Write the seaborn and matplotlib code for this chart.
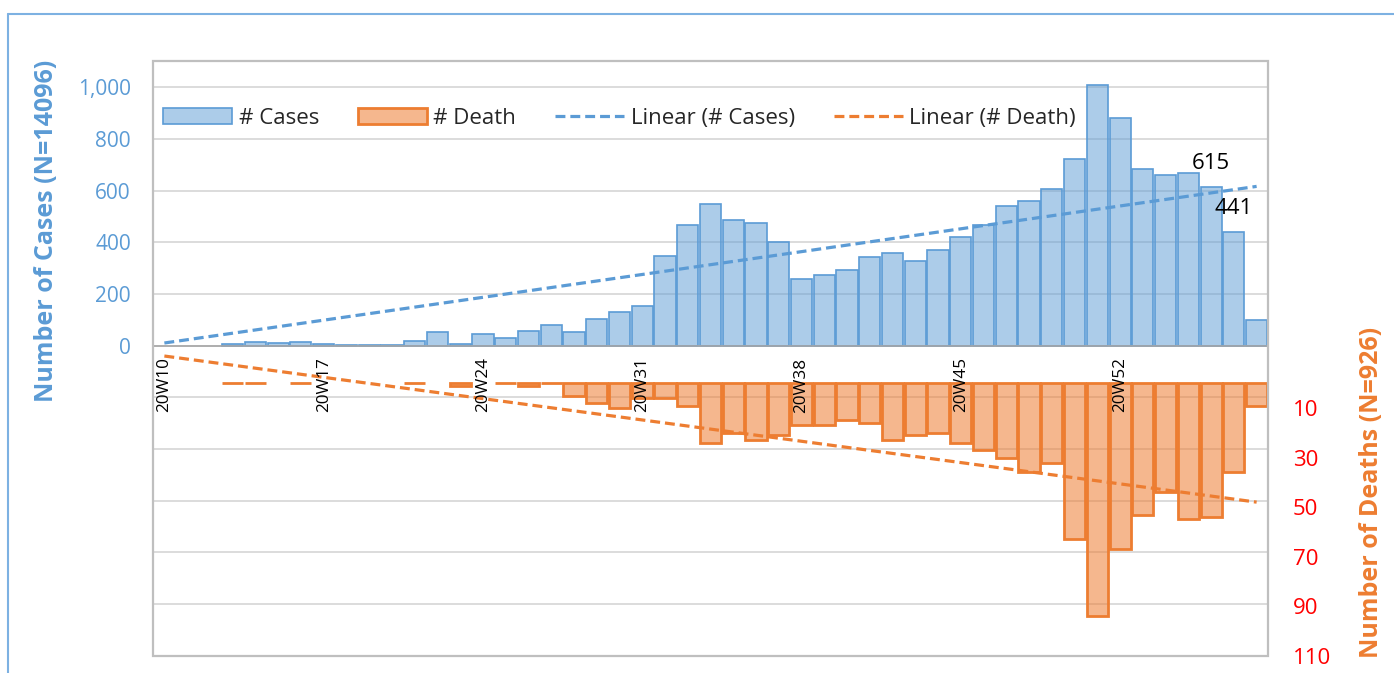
import numpy as np
import pandas as pd
import matplotlib
matplotlib.use("Agg")
import matplotlib.pyplot as plt
import matplotlib.transforms as mtransforms
import seaborn as sns
from matplotlib.patches import Rectangle, Patch
from matplotlib.lines import Line2D

# ---------------- data ----------------
weeks = ["20W10", "20W11", "20W12", "20W13", "20W14", "20W15", "20W16", "20W17",
         "20W18", "20W19", "20W20", "20W21", "20W22", "20W23", "20W24", "20W25",
         "20W26", "20W27", "20W28", "20W29", "20W30", "20W31", "20W32", "20W33",
         "20W34", "20W35", "20W36", "20W37", "20W38", "20W39", "20W40", "20W41",
         "20W42", "20W43", "20W44", "20W45", "20W46", "20W47", "20W48", "20W49",
         "20W50", "20W51", "20W52", "20W53", "21W01", "21W02", "21W03", "21W04",
         "21W05"]
nan = np.nan
cases = [nan, nan, nan, 5, 12, 9, 14, 5, 3, 3, 3, 19, 52, 5, 45, 28, 58, 81, 54,
         102, 131, 153, 345, 468, 549, 485, 476, 402, 259, 275, 291, 344, 360,
         326, 369, 420, 468, 541, 561, 606, 722, 1010, 882, 685, 659, 668, 615,
         441, 98]
deaths = [nan, nan, nan, 0, 0, nan, 0, nan, nan, nan, nan, 0, nan, 1, nan, 0, 1,
          0, 5, 8, 10, 6, 6, 9, 24, 20, 23, 21, 17, 17, 15, 16, 23, 21, 20, 24,
          27, 30, 36, 32, 63, 94, 67, 53, 44, 55, 54, 36, 9]
cases_trend = [10, 616]      # linear trend value at first / last week
deaths_trend = [-11, 48]
labelled_weeks = ["21W03", "21W04"]
shown_week_labels = ["20W10", "20W17", "20W24", "20W31", "20W38", "20W45", "20W52"]
left_ticks = [0, 200, 400, 600, 800, 1000]
right_ticks = [10, 30, 50, 70, 90, 110]

# ---------------- style ----------------
sns.set_style("white")
plt.rcParams["font.family"] = ["Open Sans", "DejaVu Sans"]

BLUE = "#5B9BD5"
ORANGE = "#ED7D31"
blue_fc = (91 / 255, 155 / 255, 213 / 255, 0.5)
orange_fc = (237 / 255, 125 / 255, 49 / 255, 0.55)

W, H = 1394, 673
fig = plt.figure(figsize=(W / 100, H / 100), dpi=100)
fig.patch.set_facecolor("white")
ax = fig.add_axes([153 / W, 1 - 655.7 / H, (1268 - 153) / W, (655.7 - 61.3) / H])
ax2 = ax.twinx()

df = pd.DataFrame({"week": weeks, "cases": cases, "deaths": deaths})

sns.barplot(data=df, x="week", y="cases", order=weeks, ax=ax, color=BLUE,
            width=0.93, linewidth=1.2, edgecolor=BLUE, errorbar=None,
            saturation=1)
for p in ax.patches:
    p.set_facecolor(blue_fc)

sns.barplot(data=df, x="week", y="deaths", order=weeks, ax=ax2, color=ORANGE,
            width=0.93, linewidth=2.0, edgecolor=ORANGE, errorbar=None,
            saturation=1)
for p in ax2.patches:
    p.set_facecolor(orange_fc)

# trend lines
xt = [0, len(weeks) - 1]
ax.plot(xt, cases_trend, color=BLUE, lw=2.3, dashes=(3.1, 1.55), zorder=5)
ax2.plot(xt, deaths_trend, color=ORANGE, lw=2.3, dashes=(3.1, 1.55), zorder=5)

# data labels
for wk in labelled_weeks:
    i = weeks.index(wk)
    ax.annotate(f"{cases[i]:.0f}", (i, cases[i]), xytext=(0, 9),
                textcoords="offset points", ha="center", va="bottom",
                fontsize=16, color="black")

# axes limits / ticks
ax.set_xlim(-0.5, len(weeks) - 0.5)
ax.set_ylim(-1200, 1100)
ax2.set_ylim(110, -130)

grid_vals = list(range(-1200, 1001, 200))
ax.set_yticks(grid_vals)
ax.set_yticklabels([f"{v:,}" if v in left_ticks else "" for v in grid_vals])
ax.tick_params(axis="y", length=0, pad=16, labelsize=15, labelcolor=BLUE)
ax.yaxis.grid(True, color="#D9D9D9", lw=1.3)
ax.xaxis.grid(False)
ax.set_axisbelow(True)

ax2.set_yticks(right_ticks)
ax2.set_yticklabels([str(v) for v in right_ticks])
ax2.tick_params(axis="y", length=0, pad=18, labelsize=16, labelcolor="red")
ax2.grid(False)

# category boundary tick marks on the zero line, no tick labels on the axis
ax.set_xticks([])
ax.set_xticks(np.arange(-0.5, len(weeks), 1.0), minor=True)
ax.tick_params(axis="x", which="minor", length=4.5, width=1.0,
               color="#A6A6A6", direction="out", labelbottom=False)
ax.set_xlabel("")
ax.set_ylabel("")
ax2.set_ylabel("")

# week labels drawn on the top axes so they sit over the death bars
lab_tr = mtransforms.offset_copy(
    mtransforms.blended_transform_factory(ax2.transData, ax.transData),
    fig=fig, x=0, y=-8.5, units="points")
for w in shown_week_labels:
    ax2.text(weeks.index(w), 0, w, transform=lab_tr, rotation=90, ha="center",
             va="top", fontsize=12.3, color="black", clip_on=False, zorder=20)

for name, sp in ax.spines.items():
    if name == "bottom":
        sp.set_position(("data", 0))
        sp.set_color("#A6A6A6")
        sp.set_linewidth(1.2)
    else:
        sp.set_visible(False)
for sp in ax2.spines.values():
    sp.set_visible(False)

ax2.add_patch(Rectangle((0, 0), 1, 1, transform=ax2.transAxes, fill=False,
                        edgecolor="#BFBFBF", lw=1.6, clip_on=False, zorder=10))

# axis titles
fig.text(47 / W, 1 - 231 / H, "Number of Cases (N=14096)", rotation=90,
         ha="center", va="center", color=BLUE, fontsize=18, fontweight="bold")
fig.text(1372 / W, 1 - 492 / H, "Number of Deaths (N=926)", rotation=90,
         ha="center", va="center", color=ORANGE, fontsize=18, fontweight="bold")

# outer chart-area border (top & left visible)
fig.add_artist(Line2D([8 / W, 8 / W], [0, 1 - 14 / H], color="#7DB1E2", lw=1.5,
                      transform=fig.transFigure))
fig.add_artist(Line2D([8 / W, 1], [1 - 14 / H, 1 - 14 / H], color="#7DB1E2",
                      lw=1.5, transform=fig.transFigure))

# legend
handles = [Patch(facecolor=blue_fc, edgecolor=BLUE, lw=1.2),
           Patch(facecolor=orange_fc, edgecolor=ORANGE, lw=2.0),
           Line2D([], [], color=BLUE, lw=2.3, dashes=(3.1, 1.55)),
           Line2D([], [], color=ORANGE, lw=2.3, dashes=(3.1, 1.55))]
labels = ["# Cases", "# Death", "Linear (# Cases)", "Linear (# Death)"]
fig.legend(handles, labels, ncol=4, loc="center left",
           bbox_to_anchor=(163 / W, 1 - 118.5 / H), bbox_transform=fig.transFigure,
           frameon=False, fontsize=16, handlelength=3.1, handleheight=0.7,
           handletextpad=0.3, columnspacing=1.75, borderpad=0, borderaxespad=0)

fig.savefig("out.png", dpi=100)
